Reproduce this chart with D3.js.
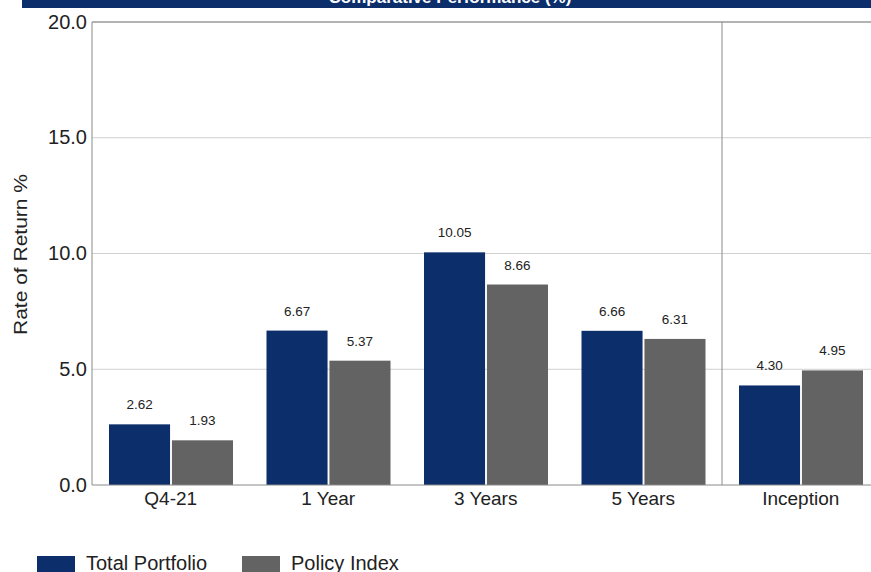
<!DOCTYPE html>
<html><head><meta charset="utf-8">
<script src="https://cdn.jsdelivr.net/npm/d3@7"></script>
<style>body{margin:0;background:#fff;}svg{display:block;font-family:"Liberation Sans",Arial,sans-serif;}</style>
</head><body>
<svg id="c" width="871" height="572"></svg>
<script>
const categories = ["Q4-21", "1 Year", "3 Years", "5 Years", "Inception"];
const seriesNames = ["Total Portfolio", "Policy Index"];
const totalPortfolio = [2.62, 6.67, 10.05, 6.66, 4.30];
const policyIndex = [1.93, 5.37, 8.66, 6.31, 4.95];
const yTicks = [0, 5, 10, 15, 20];
const colors = ["#0c2f6b", "#636363"];
const title = "Comparative Performance (%)";

(function () {
const svg = d3.select("#c");
const mLeft = 92, mRight = 879.5, mTop = 22, mBottom = 485;

// banner
svg.append("rect").attr("x", 22).attr("y", 0).attr("width", 849).attr("height", 8).attr("fill", "#0c2f6b");
svg.append("clipPath").attr("id", "bc").append("rect").attr("x", 22).attr("y", 0).attr("width", 849).attr("height", 8);
svg.append("text").attr("clip-path", "url(#bc)").attr("x", 450).attr("y", 3).attr("text-anchor", "middle")
  .attr("fill", "#fff").attr("font-size", 17).attr("font-weight", "bold").text(title);

const x = d3.scaleBand().domain(categories).range([mLeft, mRight]).paddingInner(0).paddingOuter(0);
const x1 = d3.scaleBand().domain(seriesNames).range([17, 141]).paddingInner(0.03).paddingOuter(0);
const y = d3.scaleLinear().domain([0, 20]).range([mBottom, mTop]);

// gridlines
svg.append("g").selectAll("line").data(yTicks.filter(d => d > 0)).join("line")
  .attr("x1", mLeft).attr("x2", 871).attr("y1", d => y(d)).attr("y2", d => y(d))
  .attr("stroke", d => d === 20 ? "#9a9a9a" : "#d0d0d0").attr("stroke-width", d => d === 20 ? 1.5 : 1);

// separator before Inception
svg.append("line").attr("x1", x("Inception")).attr("x2", x("Inception")).attr("y1", mTop).attr("y2", mBottom)
  .attr("stroke", "#8a8a8a").attr("stroke-width", 1);

// bars
const data = categories.map((c, i) => ({c, vals: [totalPortfolio[i], policyIndex[i]]}));
const g = svg.append("g").selectAll("g").data(data).join("g").attr("transform", d => `translate(${x(d.c)},0)`);
g.selectAll("rect").data(d => d.vals.map((v, j) => ({v, s: seriesNames[j], j}))).join("rect")
  .attr("x", d => x1(d.s)).attr("width", x1.bandwidth())
  .attr("y", d => y(d.v)).attr("height", d => y(0) - y(d.v))
  .attr("fill", d => colors[d.j]);
g.selectAll("text").data(d => d.vals.map((v, j) => ({v, s: seriesNames[j], j}))).join("text")
  .attr("x", d => x1(d.s) + x1.bandwidth() / 2).attr("y", d => y(d.v) - 15)
  .attr("text-anchor", "middle").attr("font-size", 13.5).attr("fill", "#222")
  .text(d => d.v.toFixed(2));

// axes
const ya = svg.append("g").attr("transform", `translate(${mLeft},0)`)
  .call(d3.axisLeft(y).tickValues(yTicks).tickFormat(d3.format(".1f")).tickSize(0).tickPadding(5));
ya.select(".domain").attr("stroke", "#8a8a8a").attr("d", `M0,${mTop}V${mBottom}`);
ya.selectAll("text").attr("font-size", 20).attr("fill", "#222").attr("dy", "0.3em");

const xa = svg.append("g").attr("transform", `translate(0,${mBottom})`)
  .call(d3.axisBottom(x).tickSize(0).tickPadding(7));
xa.select(".domain").attr("stroke", "#8a8a8a").attr("d", `M${mLeft},0H871`);
xa.selectAll("text").attr("font-size", 19).attr("fill", "#222");

svg.append("text").attr("transform", `translate(27,${(mTop + mBottom) / 2 + 1}) rotate(-90) scale(1,0.85)`)
  .attr("text-anchor", "middle").attr("font-size", 21).attr("fill", "#222").text("Rate of Return %");

// legend
const lg = svg.append("g").selectAll("g").data(seriesNames).join("g")
  .attr("transform", (d, i) => `translate(${i === 0 ? 37 : 242},556)`);
lg.append("rect").attr("width", 38).attr("height", 18).attr("fill", (d, i) => colors[i]);
lg.append("text").attr("x", 49).attr("y", 14).attr("font-size", 20).attr("fill", "#222").text(d => d);
})();
</script>
</body></html>
